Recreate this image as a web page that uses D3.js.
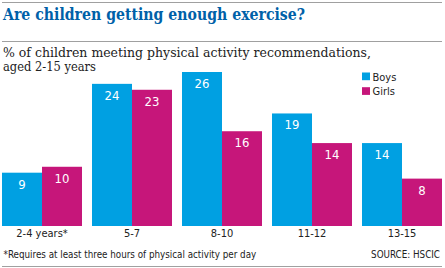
<!DOCTYPE html>
<html>
<head>
<meta charset="utf-8">
<script src="https://cdn.jsdelivr.net/npm/d3@7/dist/d3.min.js"></script>
<style>
html,body{margin:0;padding:0;background:#fff;}
svg{display:block;}
.cond{font-family:"DejaVu Sans Condensed","Liberation Sans Narrow","Roboto",sans-serif;font-stretch:condensed;}
.serif{font-family:"DejaVu Serif","Liberation Serif",serif;}
</style>
</head>
<body>
<svg id="chart" width="445" height="268"></svg>
<script>
const categories = ["2-4 years*", "5-7", "8-10", "11-12", "13-15"];
const seriesNames = ["Boys", "Girls"];
const boys = [9, 24, 26, 19, 14];
const girls = [10, 23, 16, 14, 8];
const colors = {Boys: "#00a0e2", Girls: "#c6167a"};

const svg = d3.select("#chart");

function fitSize(sel, base, target) {
  const len = sel.node().getComputedTextLength();
  if (len > 0) sel.attr("font-size", Math.min(base, base * target / len));
  return sel;
}

// rules
[2.5, 41.5, 266.5].forEach(y => {
  svg.append("line").attr("x1", 2).attr("x2", 442).attr("y1", y).attr("y2", y)
    .attr("stroke", "#a0a0a0").attr("stroke-width", 1);
});

// title
svg.append("text").attr("class", "serif").attr("x", 3).attr("y", 19.5)
  .attr("font-size", 16.5).attr("font-weight", "bold").attr("fill", "#0061a8")
  .attr("textLength", 302).attr("lengthAdjust", "spacingAndGlyphs")
  .text("Are children getting enough exercise?");

svg.append("text").attr("class", "serif").attr("x", 3).attr("y", 57)
  .attr("font-size", 13).attr("fill", "#222")
  .attr("textLength", 368).attr("lengthAdjust", "spacingAndGlyphs")
  .text("% of children meeting physical activity recommendations,");
svg.append("text").attr("class", "serif").attr("x", 3).attr("y", 70.5)
  .attr("font-size", 13).attr("fill", "#222")
  .attr("textLength", 93).attr("lengthAdjust", "spacingAndGlyphs")
  .text("aged 2-15 years");

const x0 = d3.scaleBand().domain(categories).range([2, 442]).paddingInner(1/9).paddingOuter(0);
const x1 = d3.scaleBand().domain(seriesNames).range([0, x0.bandwidth()]);
const y = d3.scaleLinear().domain([0, 26]).range([226, 72]);

const data = categories.map((c, i) => ({cat: c, values: [{s: "Boys", v: boys[i]}, {s: "Girls", v: girls[i]}]}));

const g = svg.selectAll("g.grp").data(data).enter().append("g")
  .attr("class", "grp").attr("transform", d => `translate(${x0(d.cat)},0)`);

g.selectAll("rect").data(d => d.values).enter().append("rect")
  .attr("x", d => x1(d.s)).attr("width", x1.bandwidth())
  .attr("y", d => y(d.v)).attr("height", d => y(0) - y(d.v))
  .attr("fill", d => colors[d.s]);

g.selectAll("text.val").data(d => d.values).enter().append("text")
  .attr("class", "val cond").attr("text-anchor", "middle")
  .attr("x", d => x1(d.s) + x1.bandwidth() / 2)
  .attr("y", d => y(d.v) + 16)
  .attr("font-size", 13).attr("fill", "#fff")
  .text(d => d.v);

// category axis
const axis = d3.axisBottom(x0).tickSize(0).tickPadding(0);
const ax = svg.append("g").attr("transform", "translate(0,226)").call(axis);
ax.select(".domain").remove();
ax.selectAll("text").attr("class", "cond").attr("font-size", 11).attr("fill", "#222")
  .attr("dy", null).attr("y", 11);

// legend
const leg = svg.append("g").attr("transform", "translate(362,72.5)");
seriesNames.forEach((s, i) => {
  leg.append("rect").attr("x", 0).attr("y", i * 14.7).attr("width", 8).attr("height", 7.7).attr("fill", colors[s]);
  leg.append("text").attr("class", "cond").attr("x", 10.5).attr("y", i * 14.7 + 8)
    .attr("font-size", 11).attr("fill", "#222").text(s);
});

// footnotes
const fn = svg.append("text").attr("class", "cond").attr("x", 3.5).attr("y", 258)
  .attr("font-size", 11).attr("fill", "#222")
  .text("*Requires at least three hours of physical activity per day");
fitSize(fn, 11, 253);
const src = svg.append("text").attr("class", "cond").attr("x", 440).attr("y", 258)
  .attr("text-anchor", "end")
  .attr("font-size", 11).attr("fill", "#222")
  .text("SOURCE: HSCIC");
fitSize(src, 11, 69);
</script>
</body>
</html>
